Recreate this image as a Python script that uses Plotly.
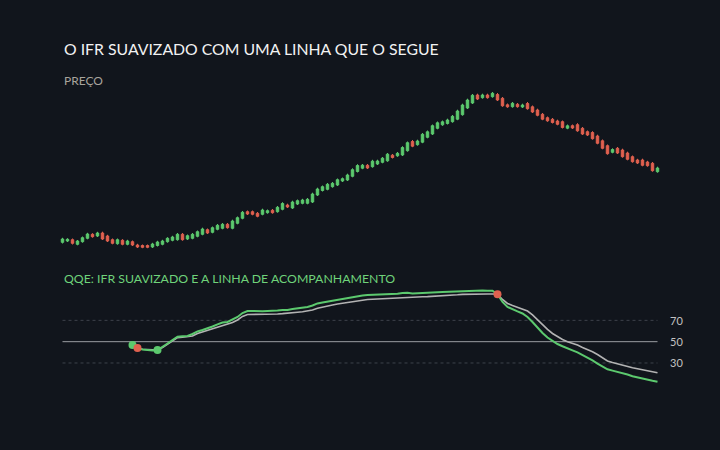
import plotly.graph_objects as go

# candles, one per bar (index 0..119)
open_ = [107.7, 109.0, 110.3, 105.7, 108.3, 111.7, 115.7, 114.0, 117.0, 114.0,
         110.3, 106.3, 109.7, 105.7, 108.3, 105.0, 104.5, 104.5, 103.0, 104.5,
         105.7, 108.3, 109.7, 110.3, 115.7, 111.0, 111.7, 113.7, 115.7, 120.3,
         117.7, 120.7, 121.7, 125.7, 121.7, 126.7, 131.7, 138.3, 138.3, 136.7,
         135.7, 137.3, 139.7, 138.3, 140.7, 145.0, 142.0, 146.0, 146.7, 146.7,
         148.0, 155.0, 159.5, 160.7, 163.3, 165.0, 169.0, 170.0, 173.7, 178.5,
         181.8, 184.7, 183.3, 186.0, 187.7, 189.2, 194.8, 194.2, 195.0, 199.3,
         208.5, 205.3, 207.8, 212.7, 216.0, 221.7, 225.2, 226.5, 228.3, 230.8,
         235.3, 242.0, 247.0, 255.0, 252.3, 255.0, 253.3, 255.5, 251.7, 245.2,
         243.3, 245.7, 243.0, 246.5, 243.2, 240.0, 235.7, 232.3, 230.7, 229.0,
         228.3, 221.8, 224.3, 225.3, 221.7, 218.3, 217.5, 214.0, 209.2, 204.3,
         197.7, 201.7, 200.0, 197.0, 193.3, 190.0, 190.0, 188.0, 186.7, 178.3]
close = [111.0, 110.7, 106.7, 109.0, 112.3, 116.0, 113.3, 117.0, 111.0, 109.0,
         106.7, 110.3, 105.7, 109.0, 105.0, 103.0, 102.7, 102.7, 106.0, 108.0,
         109.0, 111.7, 113.0, 115.7, 110.3, 114.3, 115.7, 118.3, 121.0, 117.0,
         122.3, 124.7, 125.7, 122.3, 129.0, 132.3, 137.7, 136.0, 135.7, 133.7,
         140.0, 139.3, 137.3, 142.7, 146.5, 143.0, 148.0, 149.3, 150.0, 150.7,
         156.0, 161.0, 163.3, 165.7, 166.7, 170.3, 171.3, 175.0, 180.3, 184.5,
         184.8, 182.0, 188.8, 189.0, 191.8, 195.8, 192.5, 196.7, 202.5, 207.3,
         203.8, 209.0, 215.7, 218.2, 224.3, 227.2, 228.2, 230.0, 233.7, 239.0,
         245.0, 250.0, 254.7, 251.0, 255.0, 252.3, 256.7, 250.0, 244.2, 243.2,
         246.7, 243.3, 245.0, 241.3, 238.0, 234.7, 230.8, 229.2, 227.5, 225.7,
         222.5, 224.2, 222.0, 219.2, 216.0, 215.0, 211.3, 206.7, 201.7, 196.3,
         200.5, 197.0, 193.3, 190.7, 188.3, 187.0, 184.7, 184.3, 179.3, 182.0]
high = [112.2, 111.8, 111.5, 110.0, 113.5, 117.2, 116.8, 118.2, 118.3, 115.2,
        111.5, 111.5, 110.8, 110.2, 109.5, 106.2, 105.5, 105.5, 107.2, 109.2,
        110.2, 112.8, 114.2, 117.0, 117.0, 115.5, 117.0, 119.5, 122.3, 121.5,
        123.5, 126.0, 127.0, 127.0, 130.3, 133.5, 139.0, 139.5, 139.5, 138.0,
        141.3, 140.5, 141.0, 144.0, 147.8, 146.3, 149.3, 150.5, 151.2, 152.0,
        157.3, 162.3, 164.5, 167.0, 168.0, 171.5, 172.5, 176.3, 181.7, 185.8,
        186.0, 186.0, 190.2, 190.3, 193.0, 197.0, 196.0, 198.0, 203.8, 208.5,
        210.0, 210.3, 217.0, 219.5, 225.5, 228.5, 229.5, 231.3, 235.0, 240.3,
        246.3, 251.3, 256.0, 256.3, 256.3, 256.3, 258.0, 257.0, 253.0, 246.5,
        248.0, 247.0, 246.3, 248.0, 244.5, 241.3, 237.0, 233.5, 232.0, 230.3,
        229.5, 225.5, 225.5, 226.8, 223.0, 219.5, 218.8, 215.3, 210.5, 205.5,
        201.7, 203.0, 201.3, 198.3, 194.5, 191.2, 191.3, 189.2, 188.0, 183.3]
low = [106.5, 108.0, 105.5, 104.7, 107.3, 110.7, 112.3, 113.0, 110.0, 108.0,
       105.7, 105.3, 104.7, 104.7, 104.0, 102.0, 101.8, 101.8, 102.0, 103.5,
       104.7, 107.3, 108.7, 109.3, 109.3, 110.0, 110.7, 112.7, 114.7, 116.0,
       116.7, 119.7, 120.7, 121.3, 120.7, 125.7, 130.7, 135.0, 134.7, 132.7,
       134.7, 136.3, 136.3, 137.3, 139.7, 142.0, 141.0, 145.0, 145.7, 145.7,
       147.0, 154.0, 158.5, 159.7, 162.3, 164.0, 168.0, 169.0, 172.7, 177.5,
       180.8, 181.0, 182.3, 185.0, 186.7, 188.2, 191.5, 193.2, 194.0, 198.3,
       202.8, 204.3, 206.8, 211.7, 215.0, 220.7, 224.2, 225.5, 227.3, 229.8,
       234.3, 241.0, 246.0, 250.0, 251.3, 251.3, 252.3, 249.0, 243.2, 242.2,
       242.3, 242.3, 242.0, 240.3, 237.0, 233.7, 229.8, 228.2, 226.5, 224.7,
       221.5, 220.8, 221.0, 218.2, 215.0, 214.0, 210.3, 205.7, 200.7, 195.3,
       196.7, 196.0, 192.3, 189.7, 187.3, 186.0, 183.7, 183.3, 178.3, 177.3]

# QQE panel: smoothed RSI and its trailing line, starting at bar 14
qqe_start = 14
rsi_smooth = [46.9, 44.1, 42.7, 42.2, 41.7, 42.2, 45.0, 48.3, 51.6, 54.7,
              55.1, 55.4, 57.2, 59.6, 61.0, 62.4, 64.3, 66.2, 68.0, 68.5,
              70.8, 73.2, 76.9, 78.8, 78.8, 78.4, 78.5, 78.8, 78.8, 79.3,
              79.8, 79.8, 80.7, 81.2, 81.6, 82.6, 84.0, 85.9, 86.8, 87.7,
              88.7, 89.6, 90.1, 91.0, 92.0, 92.9, 93.4, 93.9, 94.0, 94.3,
              94.5, 94.8, 94.8, 95.0, 95.7, 95.9, 95.3, 95.4, 95.7, 95.9,
              96.2, 96.4, 96.7, 96.9, 97.1, 97.3, 97.6, 97.8, 98.0, 98.0,
              98.0, 97.9, 97.8, 94.5, 87.3, 82.6, 80.2, 78.4, 76.5, 73.2,
              68.5, 62.9, 58.2, 53.9, 50.7, 47.8, 45.7, 44.1, 41.9, 39.9,
              37.5, 35.2, 32.5, 29.5, 26.7, 24.1, 22.8, 21.7, 20.6, 19.2,
              17.6, 16.4, 15.3, 14.3, 13.3, 12.4]
trail_line = [46.9, 44.1, 42.9, 42.5, 42.2, 42.2, 44.6, 47.4, 50.7, 53.8,
              54.1, 54.4, 55.4, 57.7, 59.1, 60.5, 61.9, 63.8, 65.2, 66.2,
              68.0, 70.4, 73.7, 75.5, 75.5, 75.5, 75.5, 75.7, 75.7, 76.0,
              76.3, 76.5, 77.1, 77.6, 78.1, 78.8, 79.8, 81.4, 82.6, 83.5,
              84.5, 85.4, 86.1, 86.8, 87.7, 88.7, 89.2, 89.6, 89.8, 90.1,
              90.3, 90.6, 90.8, 91.0, 91.5, 91.8, 92.0, 92.0, 92.2, 92.3,
              92.5, 92.7, 92.9, 93.3, 93.7, 94.0, 94.4, 94.6, 94.8, 94.8,
              94.8, 94.8, 94.8, 94.5, 89.6, 85.9, 84.0, 82.3, 80.7, 78.8,
              75.1, 70.4, 65.7, 61.5, 57.7, 54.7, 52.1, 50.0, 48.5, 46.9,
              44.6, 42.7, 40.6, 38.0, 34.7, 31.9, 30.5, 29.1, 27.7, 26.5,
              25.5, 24.6, 23.6, 22.8, 21.8, 20.9]
cross_up = [14, 19]
cross_down = [15, 87]
levels = [70, 50, 30]

bars = list(range(len(close)))
qqe_x = list(range(qqe_start, qqe_start + len(rsi_smooth)))

bg = "#11151c"
green = "#5cc96e"
red = "#e0614f"
grey_line = "#b3b3b3"

fig = go.Figure()

fig.add_trace(go.Candlestick(
    x=bars, open=open_, high=high, low=low, close=close,
    increasing=dict(line=dict(color=green, width=1), fillcolor=green),
    decreasing=dict(line=dict(color=red, width=1), fillcolor=red),
    whiskerwidth=0, xaxis="x", yaxis="y",
))

# reference levels
fig.add_trace(go.Scatter(x=[bars[0], bars[-1]], y=[levels[0]] * 2, mode="lines",
                         line=dict(color="#3d424b", width=1, dash="dot"),
                         xaxis="x2", yaxis="y2"))
fig.add_trace(go.Scatter(x=[bars[0], bars[-1]], y=[levels[2]] * 2, mode="lines",
                         line=dict(color="#3d424b", width=1, dash="dot"),
                         xaxis="x2", yaxis="y2"))
fig.add_trace(go.Scatter(x=[bars[0], bars[-1]], y=[levels[1]] * 2, mode="lines",
                         line=dict(color="#9b9ea3", width=1),
                         xaxis="x2", yaxis="y2"))

fig.add_trace(go.Scatter(x=qqe_x, y=trail_line, mode="lines",
                         line=dict(color=grey_line, width=1.6),
                         xaxis="x2", yaxis="y2"))
fig.add_trace(go.Scatter(x=qqe_x, y=rsi_smooth, mode="lines",
                         line=dict(color=green, width=2),
                         xaxis="x2", yaxis="y2"))

fig.add_trace(go.Scatter(x=cross_up, y=[rsi_smooth[i - qqe_start] for i in cross_up],
                         mode="markers", marker=dict(color=green, size=8),
                         xaxis="x2", yaxis="y2"))
fig.add_trace(go.Scatter(x=cross_down, y=[rsi_smooth[i - qqe_start] for i in cross_down],
                         mode="markers", marker=dict(color=red, size=8),
                         xaxis="x2", yaxis="y2"))

for lv in levels:
    fig.add_annotation(x=121, y=lv, xref="x2", yref="y2", text=str(lv),
                       showarrow=False, xanchor="left",
                       font=dict(family="Lato", size=11, color="#c2c2c2"))

fig.add_annotation(x=62 / 720, y=1 - 48 / 450, xref="paper", yref="paper",
                   text="O IFR SUAVIZADO COM UMA LINHA QUE O SEGUE",
                   showarrow=False, xanchor="left", yanchor="middle",
                   font=dict(family="Lato", size=15.8, color="#f2f2f2"))
fig.add_annotation(x=62 / 720, y=1 - 80 / 450, xref="paper", yref="paper",
                   text="PREÇO", showarrow=False, xanchor="left", yanchor="middle",
                   font=dict(family="Lato", size=12, color="#a8a49c"))
fig.add_annotation(x=62 / 720, y=1 - 278 / 450, xref="paper", yref="paper",
                   text="QQE: IFR SUAVIZADO E A LINHA DE ACOMPANHAMENTO",
                   showarrow=False, xanchor="left", yanchor="middle",
                   font=dict(family="Lato", size=12.3, color="#6fd37a"))

xr = [-12.5, 131.5]
fig.update_layout(
    width=720, height=450,
    margin=dict(l=0, r=0, t=0, b=0),
    paper_bgcolor=bg, plot_bgcolor=bg,
    showlegend=False,
    xaxis=dict(domain=[0, 1], range=xr, visible=False, rangeslider=dict(visible=False)),
    yaxis=dict(domain=[(450 - 255) / 450, (450 - 90) / 450], range=[95, 260], visible=False),
    xaxis2=dict(domain=[0, 1], range=xr, visible=False, anchor="y2"),
    yaxis2=dict(domain=[(450 - 390) / 450, (450 - 285) / 450], range=[4.65, 103.2],
                visible=False, anchor="x2"),
)

fig.write_html("out.html", config={"displayModeBar": False},
               post_script="document.body.style.margin='0';"
                           "document.body.style.background='" + bg + "';")
